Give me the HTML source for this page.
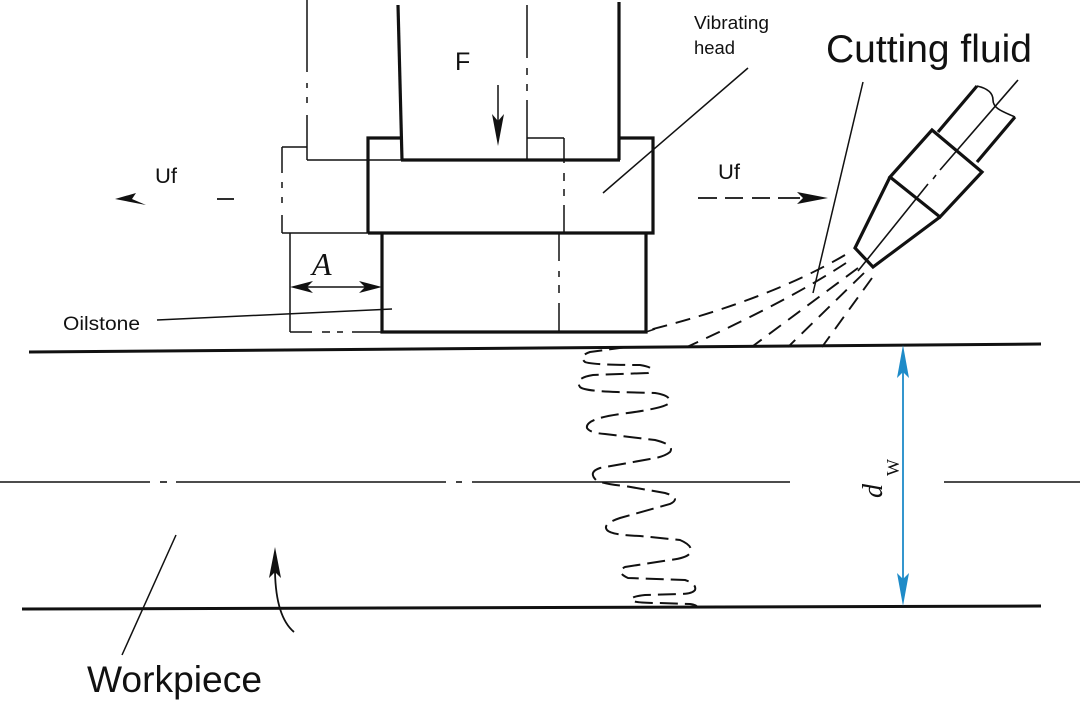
<!DOCTYPE html>
<html>
<head>
<meta charset="utf-8">
<style>
html,body{margin:0;padding:0;background:#fff;}
svg{display:block;}
</style>
</head>
<body>
<svg width="1080" height="707" viewBox="0 0 1080 707" xmlns="http://www.w3.org/2000/svg">
<rect width="1080" height="707" fill="#fff"/>

<!-- workpiece lines -->
<g stroke="#111" fill="none">
  <line x1="29" y1="352" x2="1041" y2="344" stroke-width="3"/>
  <line x1="22" y1="609" x2="1041" y2="606" stroke-width="3"/>
  <!-- center line -->
  <g stroke-width="1.6">
    <line x1="0" y1="482" x2="150" y2="482"/>
    <line x1="160" y1="482" x2="167" y2="482"/>
    <line x1="176" y1="482" x2="446" y2="482"/>
    <line x1="456" y1="482" x2="462" y2="482"/>
    <line x1="472" y1="482" x2="790" y2="482"/>
    <line x1="944" y1="482" x2="1080" y2="482"/>
  </g>
</g>

<!-- ghost (thin) lines -->
<g stroke="#111" stroke-width="1.5" fill="none">
  <!-- ghost shaft left x=307 -->
  <line x1="307" y1="0" x2="307" y2="72"/>
  <line x1="307" y1="83" x2="307" y2="88"/>
  <line x1="307" y1="97" x2="307" y2="103"/>
  <line x1="307" y1="115" x2="307" y2="160"/>
  <line x1="307" y1="160" x2="402" y2="160"/>
  <!-- ghost head box left -->
  <line x1="307" y1="147" x2="282" y2="147"/>
  <line x1="282" y1="147" x2="282" y2="173"/>
  <line x1="282" y1="182" x2="282" y2="188"/>
  <line x1="282" y1="197" x2="282" y2="203"/>
  <line x1="282" y1="215" x2="282" y2="233"/>
  <line x1="282" y1="233" x2="368" y2="233"/>
  <!-- ghost oilstone -->
  <line x1="290" y1="233" x2="290" y2="332"/>
  <line x1="290" y1="332" x2="312" y2="332"/>
  <line x1="322" y1="332" x2="330" y2="332"/>
  <line x1="337" y1="332" x2="343" y2="332"/>
  <line x1="352" y1="332" x2="382" y2="332"/>
  <!-- ghost shaft right x=527 -->
  <line x1="527" y1="5" x2="527" y2="58"/>
  <line x1="527" y1="68" x2="527" y2="75"/>
  <line x1="527" y1="84" x2="527" y2="91"/>
  <line x1="527" y1="100" x2="527" y2="160"/>
  <line x1="527" y1="138" x2="564" y2="138"/>
  <line x1="564" y1="138" x2="564" y2="163"/>
  <line x1="564" y1="173" x2="564" y2="181"/>
  <line x1="564" y1="189" x2="564" y2="196"/>
  <line x1="564" y1="205" x2="564" y2="233"/>
  <!-- oilstone inner dash-dot x=559 -->
  <line x1="559" y1="233" x2="559" y2="261"/>
  <line x1="559" y1="271" x2="559" y2="277"/>
  <line x1="559" y1="285" x2="559" y2="293"/>
  <line x1="559" y1="303" x2="559" y2="332"/>
  <!-- leaders -->
  <line x1="157" y1="320" x2="392" y2="309"/>
  <line x1="603" y1="193" x2="748" y2="68"/>
  <line x1="863" y1="82" x2="813" y2="293"/>
  <line x1="176" y1="535" x2="122" y2="655"/>
  <!-- A dimension -->
  <line x1="296" y1="287" x2="376" y2="287"/>
  <!-- F arrow -->
  <line x1="498" y1="85" x2="498" y2="125"/>
  <!-- Uf left dash -->
  <line x1="217" y1="199" x2="234" y2="199" stroke-width="1.8"/>
  <!-- Uf right dashes -->
  <g stroke-width="1.8">
    <line x1="698" y1="198" x2="717" y2="198"/>
    <line x1="725" y1="198" x2="743" y2="198"/>
    <line x1="752" y1="198" x2="770" y2="198"/>
    <line x1="778" y1="198" x2="800" y2="198"/>
  </g>
  <!-- rotation arrow -->
  <path d="M294,632 Q276,617 275,572" stroke-width="1.8"/>
</g>

<!-- arrowheads -->
<g fill="#111" stroke="none">
  <path d="M498,146 L492,114 L498,121 L504,114 Z"/>
  <path d="M290,287 L313,281 L307,287 L313,293 Z"/>
  <path d="M382,287 L359,281 L365,287 L359,293 Z"/>
  <path d="M115,199 L136,193 L132,199 L146,205 Z"/>
  <path d="M828,198 L797,192 L803,198 L797,204 Z"/>
  <path d="M275,547 L269,578 L275,572 L281,578 Z"/>
</g>

<!-- thick structure -->
<g stroke="#111" stroke-width="3.2" fill="none" stroke-linejoin="miter">
  <line x1="398" y1="5" x2="402" y2="160"/>
  <line x1="619" y1="2" x2="619" y2="160"/>
  <line x1="401" y1="160" x2="620" y2="160"/>
  <path d="M368,233 L368,138 L401,138"/>
  <path d="M619,138 L653,138 L653,233 L368,233"/>
  <path d="M382,233 L382,332 L646,332 L646,233"/>
  <!-- nozzle -->
  <path d="M938,132 L977,86"/>
  <path d="M1015,117 L977,162"/>
  <polygon points="932,130 982,172 940,217 890,177"/>
  <path d="M890,177 L855,248 L873,267 L940,217"/>
</g>
<g stroke="#111" stroke-width="1.6" fill="none">
  <path d="M977,86 C986,88 993,92 993,100 C993,109 1004,112 1015,117"/>
  <line x1="1018" y1="80" x2="940" y2="170"/>
  <line x1="936" y1="175" x2="933" y2="179"/>
  <line x1="928" y1="184" x2="858" y2="271"/>
  <line x1="646" y1="332" x2="655" y2="329"/>
</g>

<!-- spray -->
<g stroke="#111" stroke-width="1.9" fill="none" stroke-dasharray="15 9">
  <path d="M845,255 Q768,300 649,330"/>
  <path d="M846,263 Q790,300 687,347"/>
  <path d="M858,268 L753,346"/>
  <path d="M864,273 L788,347"/>
  <path d="M872,278 L822,347"/>
</g>

<!-- helix -->
<path d="M627,347 L590,352 Q578,356 585,362 Q592,365 640,365 Q658,368 648,373 L593,375 Q574,378 580,387 Q584,391 617,392 L655,393 Q674,396 668,404 Q660,409 620,414 Q585,419 587,428 Q590,433 605,434 L655,440 Q675,445 670,452 Q664,457 650,459 L600,468 Q588,472 596,480 Q603,484 625,486 L665,493 Q682,498 670,504 L620,518 Q602,524 607,530 Q611,535 640,536 L680,540 Q694,546 690,553 Q687,558 670,560 L625,567 Q615,572 628,578 L685,580 Q697,584 695,590 Q692,594 680,594 L645,595 Q627,597 633,601 Q637,603 660,603 L690,604 Q697,605 697,607" stroke="#111" stroke-width="2" fill="none" stroke-dasharray="18 7"/>

<!-- blue dimension -->
<g>
  <line x1="903" y1="360" x2="903" y2="592" stroke="#1e8bc8" stroke-width="1.8"/>
  <path d="M903,345 L897,378 L903,372 L909,378 Z" fill="#1e8bc8"/>
  <path d="M903,606 L897,573 L903,579 L909,573 Z" fill="#1e8bc8"/>
</g>

<!-- text -->
<g font-family="'Liberation Sans', sans-serif" fill="#111">
  <text x="455" y="70" font-size="25">F</text>
  <text x="155" y="183" font-size="21" textLength="22" lengthAdjust="spacingAndGlyphs">Uf</text>
  <text x="718" y="179" font-size="21" textLength="22" lengthAdjust="spacingAndGlyphs">Uf</text>
  <text x="63" y="330" font-size="19" textLength="77" lengthAdjust="spacingAndGlyphs">Oilstone</text>
  <text x="694" y="29" font-size="18" textLength="75" lengthAdjust="spacingAndGlyphs">Vibrating</text>
  <text x="694" y="54" font-size="18" textLength="41" lengthAdjust="spacingAndGlyphs">head</text>
  <text x="826" y="62" font-size="39" textLength="206" lengthAdjust="spacingAndGlyphs">Cutting fluid</text>
  <text x="87" y="692" font-size="37" textLength="175" lengthAdjust="spacingAndGlyphs">Workpiece</text>
</g>
<g font-family="'Liberation Serif', serif" fill="#111">
  <text x="312" y="275" font-size="32" font-style="italic">A</text>
  <g transform="translate(882,498) rotate(-90)">
    <text x="0" y="0" font-size="28" font-style="italic">d</text>
    <text x="22" y="17" font-size="18">W</text>
  </g>
</g>
</svg>
</body>
</html>
